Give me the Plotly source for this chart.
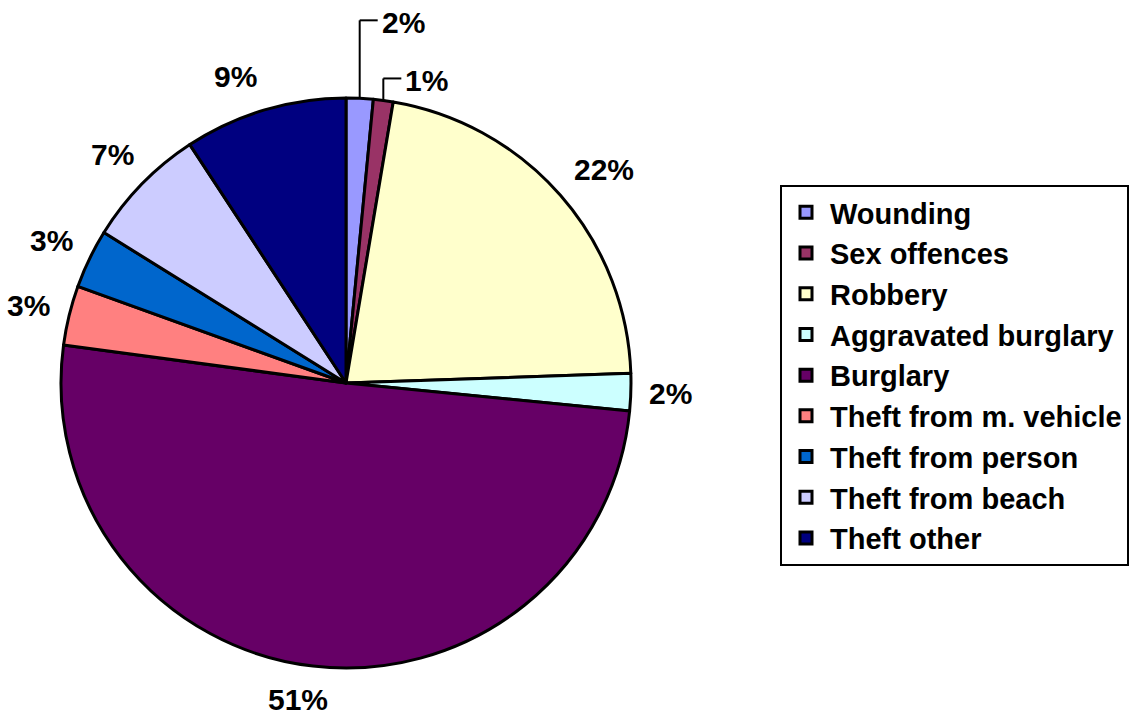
import math
import plotly.graph_objects as go

# Offence categories and their share of recorded crime (%)
categories = [
    "Wounding",
    "Sex offences",
    "Robbery",
    "Aggravated burglary",
    "Burglary",
    "Theft from m. vehicle",
    "Theft from person",
    "Theft from beach",
    "Theft other",
]
shares = [1.53, 1.12, 21.81, 2.11, 50.56, 3.37, 3.35, 6.92, 9.23]
colors = [
    "#9999FF", "#993366", "#FFFFCC", "#CCFFFF", "#660066",
    "#FF8080", "#0066CC", "#CCCCFF", "#000080",
]

W, H = 1132, 717
CX, CY, R = 346, 383, 285          # pie centre and radius in pixels
FONT = "Arial, Liberation Sans, sans-serif"
LABEL_SIZE = 30

# slices whose labels sit on an elbow leader line: rise above the rim (px)
leader_rise = {0: 78, 1: 22}
# small manual nudges (px) for labels that would otherwise crowd
label_nudge = {2: (7, 6), 4: (-11, 0), 8: (-19, 1)}

fig = go.Figure(
    go.Pie(
        labels=categories,
        values=shares,
        sort=False,
        direction="clockwise",
        rotation=0,
        marker=dict(colors=colors, line=dict(color="black", width=3)),
        textinfo="none",
        hoverinfo="label+percent",
        domain=dict(
            x=[(CX - R) / W, (CX + R) / W],
            y=[1 - (CY + R) / H, 1 - (CY - R) / H],
        ),
    )
)


def to_paper(px, py):
    return px / W, 1 - py / H


total = sum(shares)
cum = 0.0
annotations = []
shapes = []
for i, v in enumerate(shares):
    mid = (cum + v / 2) / total * 2 * math.pi
    cum += v
    text = f"{round(v / total * 100)}%"
    s, c = math.sin(mid), math.cos(mid)
    ex, ey = CX + R * s, CY - R * c
    label_font = dict(family=FONT, size=LABEL_SIZE, color="black", weight="bold")
    if i in leader_rise:
        top = ey - leader_rise[i]
        for (x0, y0, x1, y1) in [(ex, ey, ex, top), (ex, top, ex + 18, top)]:
            a0, b0 = to_paper(x0, y0)
            a1, b1 = to_paper(x1, y1)
            shapes.append(dict(type="line", xref="paper", yref="paper",
                               x0=a0, y0=b0, x1=a1, y1=b1,
                               line=dict(color="black", width=2)))
        tx, ty = to_paper(ex + 20, top + 2)
        annotations.append(dict(x=tx, y=ty, xref="paper", yref="paper",
                                text=text, showarrow=False,
                                xanchor="left", yanchor="middle",
                                font=label_font))
    else:
        half_w = (0.556 * (len(text) - 1) + 0.889) * LABEL_SIZE / 2
        half_h = 12
        d = R + 18 + abs(s) * half_w + abs(c) * half_h
        nx, ny = label_nudge.get(i, (0, 0))
        tx, ty = to_paper(CX + d * s + nx, CY - d * c + ny)
        annotations.append(dict(x=tx, y=ty, xref="paper", yref="paper",
                                text=text, showarrow=False,
                                xanchor="center", yanchor="middle",
                                font=label_font))

lx, ly = to_paper(780, 185)
fig.update_layout(
    width=W,
    height=H,
    margin=dict(l=0, r=0, t=0, b=0),
    paper_bgcolor="white",
    plot_bgcolor="white",
    annotations=annotations,
    shapes=shapes,
    showlegend=True,
    legend=dict(
        x=lx, y=ly, xanchor="left", yanchor="top",
        bordercolor="black", borderwidth=2, bgcolor="white",
        font=dict(family=FONT, size=29, color="black", weight="bold"),
        itemwidth=38,
        traceorder="normal",
    ),
)

fig.write_html("out.html")
